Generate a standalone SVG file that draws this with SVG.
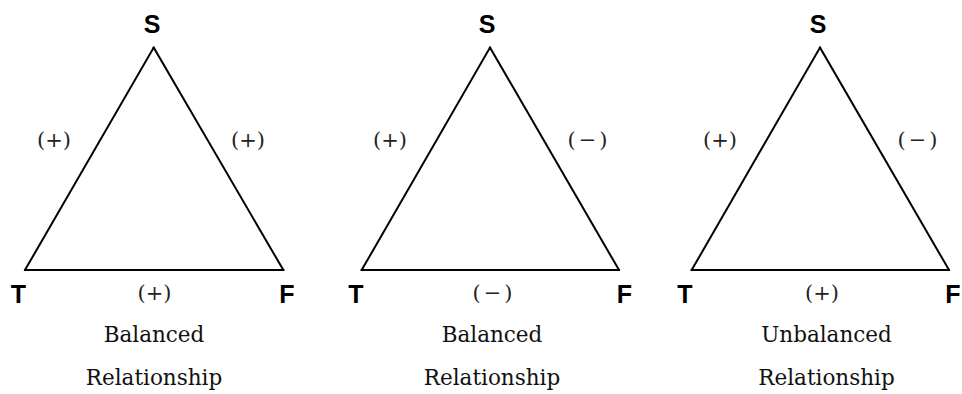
<svg xmlns="http://www.w3.org/2000/svg" width="962" height="394" viewBox="0 0 962 394">
<style>
.v{font-family:"Liberation Sans",Arial,sans-serif;font-weight:bold;font-size:25px;text-anchor:middle;fill:#000}
.s{font-family:"DejaVu Serif","Liberation Serif",serif;font-size:21px;text-anchor:middle;fill:#222}
.c{font-family:"DejaVu Serif","Liberation Serif",serif;font-size:21.5px;text-anchor:middle;fill:#111}
.e{stroke:#000;stroke-width:2;fill:none;stroke-linecap:square}
</style>
<rect width="962" height="394" fill="#fff"/>
<g id="connectors">
<line class="e" x1="153.7" y1="47.5" x2="25" y2="270"/>
<line class="e" x1="153.7" y1="47.5" x2="283.3" y2="270"/>
<line class="e" x1="25" y1="270" x2="283.3" y2="270"/>
<line class="e" x1="490" y1="47.5" x2="361.7" y2="270"/>
<line class="e" x1="490" y1="47.5" x2="619" y2="270"/>
<line class="e" x1="361.7" y1="270" x2="619" y2="270"/>
<line class="e" x1="820" y1="47.5" x2="691.7" y2="270"/>
<line class="e" x1="820" y1="47.5" x2="949" y2="270"/>
<line class="e" x1="691.7" y1="270" x2="949" y2="270"/>
</g>
<g id="edge-labels">
<text class="s" x="54" y="147">(+)</text>
<text class="s" x="248" y="147">(+)</text>
<text class="s" x="154.5" y="300">(+)</text>
<text class="s" x="390" y="147">(+)</text>
<text class="s" x="589" y="147" letter-spacing="3">(−)</text>
<text class="s" x="494" y="300" letter-spacing="3">(−)</text>
<text class="s" x="720" y="147">(+)</text>
<text class="s" x="919" y="147" letter-spacing="3">(−)</text>
<text class="s" x="822" y="300">(+)</text>
</g>
<g id="node-S1"><text class="v" x="152" y="33">S</text></g>
<g id="node-T1"><text class="v" x="18.5" y="303">T</text></g>
<g id="node-F1"><text class="v" x="287" y="303">F</text></g>
<g id="node-S2"><text class="v" x="487" y="33">S</text></g>
<g id="node-T2"><text class="v" x="356" y="303">T</text></g>
<g id="node-F2"><text class="v" x="624.5" y="303">F</text></g>
<g id="node-S3"><text class="v" x="818" y="33">S</text></g>
<g id="node-T3"><text class="v" x="685" y="303">T</text></g>
<g id="node-F3"><text class="v" x="953" y="303">F</text></g>
<g id="captions">
<text class="c" x="154" y="342">Balanced</text>
<text class="c" x="154" y="385">Relationship</text>
<text class="c" x="492" y="342">Balanced</text>
<text class="c" x="492" y="385">Relationship</text>
<text class="c" x="826.5" y="342">Unbalanced</text>
<text class="c" x="826.5" y="385">Relationship</text>
</g>
</svg>
